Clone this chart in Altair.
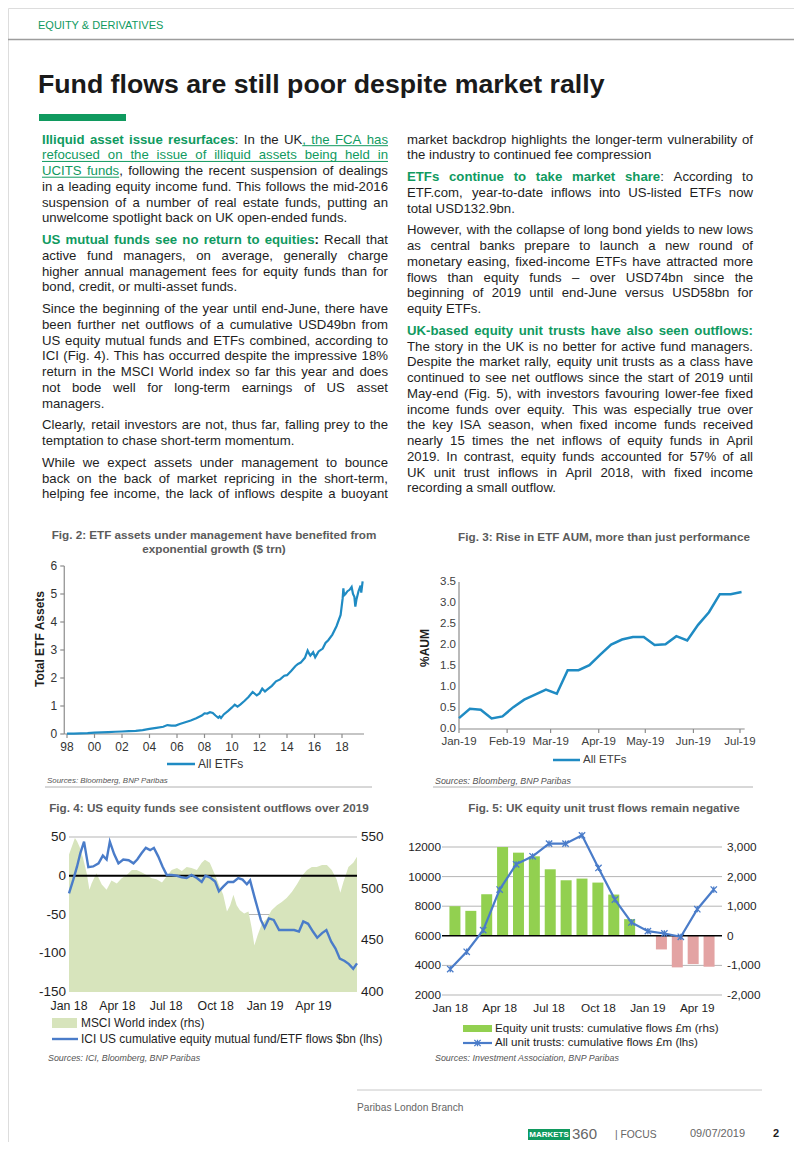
import altair as alt
import pandas as pd

# ----------------------------------------------------------------- page set-up
W, H = 786, 1134            # drawing area inside the 8px body margin
OX = OY = 8                 # reference page pixel -> chart pixel offset

SANS = "Liberation Sans, Arial, sans-serif"
GREEN = "#109a5f"
INK = "#1e1e1e"
CAP = "#5b5b5b"
AXIS_GREY = "#8c8c8c"
ETF_BLUE = "#1f8bc3"
XL_BLUE = "#4a7cc9"
MSCI_FILL = "#d7e4bc"
BAR_GREEN = "#92d050"
BAR_RED = "#e3a3a3"
GRID = "#b5b5b5"

# ----------------------------------------------------------------- page texts
header_text = "EQUITY & DERIVATIVES"
title_text = "Fund flows are still poor despite market rally"

left_paras = [
    [[("b", "Illiquid asset issue resurfaces"), ("n", ": In the UK"), ("u", ", the FCA has")],
     [("u", "refocused on the issue of illiquid assets being held in")],
     [("u", "UCITS funds"), ("n", ", following the recent suspension of dealings")],
     "in a leading equity income fund. This follows the mid-2016",
     "suspension of a number of real estate funds, putting an",
     "unwelcome spotlight back on UK open-ended funds."],
    [[("b", "US mutual funds see no return to equities"), ("k", ":"), ("n", " Recall that")],
     "active fund managers, on average, generally charge",
     "higher annual management fees for equity funds than for",
     "bond, credit, or multi-asset funds."],
    ["Since the beginning of the year until end-June, there have",
     "been further net outflows of a cumulative USD49bn from",
     "US equity mutual funds and ETFs combined, according to",
     "ICI (Fig. 4). This has occurred despite the impressive 18%",
     "return in the MSCI World index so far this year and does",
     "not bode well for long-term earnings of US asset",
     "managers."],
    ["Clearly, retail investors are not, thus far, falling prey to the",
     "temptation to chase short-term momentum."],
    ["While we expect assets under management to bounce",
     "back on the back of market repricing in the short-term,",
     "helping fee income, the lack of inflows despite a buoyant"],
]

right_paras = [
    ["market backdrop highlights the longer-term vulnerability of",
     "the industry to continued fee compression"],
    [[("b", "ETFs continue to take market share"), ("n", ": According to")],
     "ETF.com, year-to-date inflows into US-listed ETFs now",
     "total USD132.9bn."],
    ["However, with the collapse of long bond yields to new lows",
     "as central banks prepare to launch a new round of",
     "monetary easing, fixed-income ETFs have attracted more",
     "flows than equity funds \u2013 over USD74bn since the",
     "beginning of 2019 until end-June versus USD58bn for",
     "equity ETFs."],
    [[("b", "UK-based equity unit trusts have also seen outflows:")],
     "The story in the UK is no better for active fund managers.",
     "Despite the market rally, equity unit trusts as a class have",
     "continued to see net outflows since the start of 2019 until",
     "May-end (Fig. 5), with investors favouring lower-fee fixed",
     "income funds over equity. This was especially true over",
     "the key ISA season, when fixed income funds received",
     "nearly 15 times the net inflows of equity funds in April",
     "2019. In contrast, equity funds accounted for 57% of all",
     "UK unit trust inflows in April 2018, with fixed income",
     "recording a small outflow."],
]

fig2_title = ["Fig. 2: ETF assets under management have benefited from", "exponential growth ($ trn)"]
fig3_title = "Fig. 3: Rise in ETF AUM, more than just performance"
fig4_title = "Fig. 4: US equity funds see consistent outflows over 2019"
fig5_title = "Fig. 5: UK equity unit trust flows remain negative"

# ----------------------------------------------------------------- chart data
# Fig. 2: total ETF assets, $ trn
fig2_year = [1998.0, 1998.5, 1999.0, 1999.5, 2000.0, 2000.5, 2001.0, 2001.5, 2002.0, 2002.5,
             2003.0, 2003.5, 2004.0, 2004.5, 2005.0, 2005.3, 2005.6, 2005.9, 2006.2, 2006.6,
             2007.0, 2007.4, 2007.8, 2008.0, 2008.2, 2008.4, 2008.6, 2008.8, 2009.0, 2009.1,
             2009.2, 2009.4, 2009.7, 2010.0, 2010.2, 2010.4, 2010.6, 2010.9, 2011.2, 2011.5,
             2011.7, 2011.8, 2012.0, 2012.2, 2012.4, 2012.6, 2012.9, 2013.2, 2013.5, 2013.8,
             2014.0, 2014.3, 2014.6, 2014.8, 2015.0, 2015.3, 2015.5, 2015.6, 2015.7, 2015.9,
             2016.05, 2016.1, 2016.3, 2016.6, 2016.8, 2017.0, 2017.3, 2017.6, 2017.9, 2018.05,
             2018.1, 2018.15, 2018.25, 2018.4, 2018.55, 2018.7, 2018.8, 2018.9, 2018.97, 2019.05,
             2019.2, 2019.35, 2019.4, 2019.5]
fig2_aum = [0.01, 0.015, 0.02, 0.03, 0.05, 0.06, 0.07, 0.08, 0.09, 0.10,
            0.11, 0.14, 0.18, 0.22, 0.26, 0.32, 0.30, 0.30, 0.36, 0.42,
            0.48, 0.56, 0.66, 0.74, 0.73, 0.78, 0.75, 0.66, 0.58, 0.63,
            0.57, 0.70, 0.82, 0.95, 1.05, 0.98, 1.05, 1.18, 1.32, 1.50,
            1.42, 1.38, 1.45, 1.62, 1.52, 1.60, 1.72, 1.88, 1.95, 2.08,
            2.10, 2.25, 2.42, 2.50, 2.55, 2.72, 2.98, 2.88, 2.80, 2.92,
            2.74, 2.78, 2.95, 3.05, 3.25, 3.35, 3.55, 3.85, 4.25, 4.85,
            5.20, 4.95, 5.00, 5.10, 5.15, 5.25, 5.00, 4.90, 4.55, 4.80,
            5.10, 5.30, 5.05, 5.45]
fig2_yticks = [0, 1, 2, 3, 4, 5, 6]
fig2_xticks = [1998, 2000, 2002, 2004, 2006, 2008, 2010, 2012, 2014, 2016, 2018]
fig2_xlabels = ["98", "00", "02", "04", "06", "08", "10", "12", "14", "16", "18"]

# Fig. 3: weekly % AUM
fig3_dates = ["2019-01-01", "2019-01-08", "2019-01-15", "2019-01-22", "2019-01-29", "2019-02-05",
              "2019-02-12", "2019-02-19", "2019-02-26", "2019-03-05", "2019-03-12", "2019-03-19",
              "2019-03-26", "2019-04-02", "2019-04-09", "2019-04-16", "2019-04-23", "2019-04-30",
              "2019-05-07", "2019-05-14", "2019-05-21", "2019-05-28", "2019-06-04", "2019-06-11",
              "2019-06-18", "2019-06-25", "2019-07-02"]
fig3_aum = [0.26, 0.48, 0.46, 0.25, 0.30, 0.52, 0.70, 0.82, 0.94, 0.84, 1.40, 1.40, 1.52, 1.77,
            2.01, 2.13, 2.19, 2.19, 2.00, 2.02, 2.21, 2.11, 2.48, 2.78, 3.21, 3.21, 3.26]
fig3_yticks = [0.0, 0.5, 1.0, 1.5, 2.0, 2.5, 3.0, 3.5]
fig3_xtick_dates = ["2019-01-01", "2019-02-01", "2019-03-01", "2019-04-01", "2019-05-01",
                    "2019-06-01", "2019-07-01"]
fig3_xlabels = ["Jan-19", "Feb-19", "Mar-19", "Apr-19", "May-19", "Jun-19", "Jul-19"]

# Fig. 4: ICI cumulative flows ($bn, lhs) and MSCI World (rhs)
fig4_flow_dates = ["2018-01-01", "2018-01-09", "2018-01-16", "2018-01-22", "2018-01-29", "2018-02-06",
                   "2018-02-15", "2018-02-25", "2018-03-05", "2018-03-12", "2018-03-18", "2018-03-26",
                   "2018-04-03", "2018-04-12", "2018-04-22", "2018-05-01", "2018-05-08", "2018-05-16",
                   "2018-05-24", "2018-06-01", "2018-06-08", "2018-06-16", "2018-06-24", "2018-07-02",
                   "2018-07-11", "2018-07-21", "2018-07-30", "2018-08-08", "2018-08-17", "2018-08-27",
                   "2018-09-05", "2018-09-12", "2018-09-20", "2018-09-30", "2018-10-07", "2018-10-15",
                   "2018-10-24", "2018-11-03", "2018-11-12", "2018-11-20", "2018-11-28", "2018-12-04",
                   "2018-12-12", "2018-12-18", "2018-12-24", "2018-12-31", "2019-01-08", "2019-01-17",
                   "2019-01-27", "2019-02-05", "2019-02-14", "2019-02-24", "2019-03-05", "2019-03-13",
                   "2019-03-22", "2019-03-31", "2019-04-08", "2019-04-17", "2019-04-25", "2019-05-04",
                   "2019-05-12", "2019-05-20", "2019-05-29", "2019-06-06", "2019-06-14", "2019-06-21"]
fig4_flow = [-22.6, -5, 12, 29, 44, 11, 12, 16, 26, 21, 44, 28, 16, 21, 20, 16, 21, 29, 36, 33,
             36, 25, 12, 1, 1, 0, -2, -3, 1, -3, -8, 0, -2, -7.5, -20, -14, -8, -8, -3, -5,
             -11, -6, -27, -42, -57, -67, -55, -57, -70, -70, -70, -70, -72, -59, -62, -72, -80,
             -74, -70, -85, -94, -107, -110, -114, -120, -113]
fig4_msci_dates = ["2018-01-01", "2018-01-12", "2018-01-16", "2018-01-21", "2018-01-27", "2018-02-03",
                   "2018-02-08", "2018-02-12", "2018-02-21", "2018-03-03", "2018-03-12", "2018-03-21",
                   "2018-03-31", "2018-04-09", "2018-04-18", "2018-04-28", "2018-05-07", "2018-05-16",
                   "2018-05-26", "2018-06-04", "2018-06-13", "2018-06-23", "2018-07-02", "2018-07-11",
                   "2018-07-21", "2018-07-30", "2018-08-08", "2018-08-17", "2018-08-27", "2018-09-05",
                   "2018-09-11", "2018-09-20", "2018-09-30", "2018-10-07", "2018-10-15", "2018-10-22",
                   "2018-10-28", "2018-11-03", "2018-11-09", "2018-11-15", "2018-11-23", "2018-12-01",
                   "2018-12-07", "2018-12-12", "2018-12-18", "2018-12-26", "2019-01-04", "2019-01-13",
                   "2019-01-23", "2019-02-01", "2019-02-10", "2019-02-20", "2019-03-01", "2019-03-10",
                   "2019-03-20", "2019-03-29", "2019-04-07", "2019-04-17", "2019-04-26", "2019-05-05",
                   "2019-05-14", "2019-05-21", "2019-05-27", "2019-06-05", "2019-06-14", "2019-06-21"]
fig4_msci = [533, 549, 546, 540, 530, 515, 499, 505, 515, 504, 499, 508, 505, 510, 513, 518, 518,
             516, 513, 510, 509, 506, 512, 518, 520, 517, 521, 520, 518, 525, 528, 525, 513, 504,
             494, 478, 484, 494, 484, 479, 476, 478, 462, 445, 455, 466, 471, 479, 484, 487, 491,
             497, 504, 512, 518, 521, 521, 523, 523, 518, 509, 496, 507, 521, 525, 531]
fig4_left_ticks = [50, 0, -50, -100, -150]
fig4_right_ticks = [550, 500, 450, 400]
fig4_xtick_dates = ["2018-01-01", "2018-04-01", "2018-07-01", "2018-10-01", "2019-01-01", "2019-04-01"]
fig4_xlabels = ["Jan 18", "Apr 18", "Jul 18", "Oct 18", "Jan 19", "Apr 19"]

# Fig. 5: UK unit trusts, monthly
fig5_months = ["Jan 18", "Feb 18", "Mar 18", "Apr 18", "May 18", "Jun 18", "Jul 18", "Aug 18",
               "Sep 18", "Oct 18", "Nov 18", "Dec 18", "Jan 19", "Feb 19", "Mar 19", "Apr 19", "May 19"]
fig5_equity = [1000, 843, 1404, 3000, 2809, 2685, 2247, 1876, 1933, 1798, 1393, 562, 0,
               -461, -1067, -955, -1045]
fig5_all = [3753, 4921, 6382, 9124, 10831, 11371, 12225, 12225, 12787, 10584, 8449, 6899,
            6315, 6157, 5933, 7798, 9124]
fig5_left_ticks = [12000, 10000, 8000, 6000, 4000, 2000]
fig5_right_ticks = [3000, 2000, 1000, 0, -1000, -2000]
fig5_right_labels = ["3,000", "2,000", "1,000", "0", "-1,000", "-2,000"]
fig5_xlabel_months = ["Jan 18", "Apr 18", "Jul 18", "Oct 18", "Jan 19", "Apr 19"]

# ----------------------------------------------------------------- font metrics (Arial / Liberation Sans)
AR = dict(zip(" !\"#$%&'()*+,-./", [278, 278, 355, 556, 556, 889, 667, 191, 333, 333, 389, 584, 278, 333, 278, 278]))
AR.update({d: 556 for d in "0123456789"})
AR.update(dict(zip(":;<=>?@", [278, 278, 584, 584, 584, 556, 1015])))
AR.update(dict(zip("ABCDEFGHIJKLMNOPQRSTUVWXYZ",
                   [667, 667, 722, 722, 667, 611, 778, 722, 278, 500, 667, 556, 833, 722, 778, 667, 778, 722, 667, 611, 722, 667, 944, 667, 667, 611])))
AR.update(dict(zip("abcdefghijklmnopqrstuvwxyz",
                   [556, 556, 500, 556, 556, 278, 556, 556, 222, 222, 500, 222, 833, 556, 556, 556, 556, 333, 500, 278, 556, 500, 722, 500, 500, 500])))
AR["\u2013"] = 556
ARB = dict(zip(" !\"#$%&'()*+,-./", [278, 333, 474, 556, 556, 889, 722, 238, 333, 333, 389, 584, 278, 333, 278, 278]))
ARB.update({d: 556 for d in "0123456789"})
ARB.update(dict(zip(":;<=>?@", [333, 333, 584, 584, 584, 611, 975])))
ARB.update(dict(zip("ABCDEFGHIJKLMNOPQRSTUVWXYZ",
                    [722, 722, 722, 722, 667, 611, 778, 722, 278, 556, 722, 611, 833, 722, 778, 667, 778, 722, 667, 611, 722, 667, 944, 667, 667, 611])))
ARB.update(dict(zip("abcdefghijklmnopqrstuvwxyz",
                    [556, 611, 556, 611, 556, 333, 611, 611, 278, 278, 556, 278, 889, 611, 611, 611, 611, 389, 556, 333, 611, 556, 778, 556, 556, 500])))

BODY_FS = 13.2
BODY_Y0 = 143.5 - OY
BODY_LH = 15.75
BODY_PG = 6.0
COL_W = 346.0
STYLE = {"n": (False, INK), "b": (True, GREEN), "k": (True, INK), "u": (False, GREEN)}


def tw(s, bold, fs=BODY_FS):
    t = ARB if bold else AR
    return sum(t.get(c, 556) for c in s) * fs / 1000.0


def layout(paras, x0, continues):
    chunks, unders = [], []
    row = 0
    for pi, para in enumerate(paras):
        for li, line in enumerate(para):
            segs = [("n", line)] if isinstance(line, str) else line
            y = BODY_Y0 + row * BODY_LH + pi * BODY_PG
            words, cur = [], []
            for st, txt in segs:
                for ch in txt:
                    if ch == " ":
                        if cur:
                            words.append(cur)
                            cur = []
                    elif cur and cur[-1][0] == st:
                        cur[-1][1] += ch
                    else:
                        cur.append([st, ch])
            if cur:
                words.append(cur)
            widths = [sum(tw(t, STYLE[s][0]) for s, t in w) for w in words]
            last = li == len(para) - 1 and not (continues and pi == len(paras) - 1)
            gap = tw(" ", False) if (last or len(words) < 2) else (COL_W - sum(widths)) / (len(words) - 1)
            x = x0
            u0 = u1 = None
            for w, ww in zip(words, widths):
                cx = x
                for s, t in w:
                    wd = tw(t, STYLE[s][0])
                    chunks.append({"x": cx, "y": y, "t": t, "s": s})
                    if s == "u":
                        u0 = cx if u0 is None else u0
                        u1 = cx + wd
                    cx += wd
                x += ww + gap
            if u0 is not None:
                unders.append({"x": u0, "x2": u1, "y": y + 2.2, "y2": y + 2.2})
            row += 1
    return chunks, unders


# ----------------------------------------------------------------- helpers
def S(domain, rng):
    return alt.Scale(domain=domain, range=rng, zero=False, nice=False)


def rules(rows, xs, ys, color, width=1.0, **mk):
    df = pd.DataFrame(rows, columns=["x", "x2", "y", "y2"])
    return alt.Chart(df).mark_rule(color=color, strokeWidth=width, **mk).encode(
        x=alt.X("x:Q", scale=xs, axis=None), x2="x2:Q",
        y=alt.Y("y:Q", scale=ys, axis=None), y2="y2:Q")


def texts(rows, xs, ys, **mk):
    df = pd.DataFrame(rows, columns=["x", "y", "t"])
    base = dict(font=SANS, fontSize=12, color=INK, baseline="middle", align="left")
    base.update(mk)
    return alt.Chart(df).mark_text(**base).encode(
        x=alt.X("x:Q", scale=xs, axis=None), y=alt.Y("y:Q", scale=ys, axis=None), text="t:N")


def rect(x1, y1, x2, y2, color):
    df = pd.DataFrame([{"x": x1, "x2": x2, "y": y1, "y2": y2}])
    return alt.Chart(df).mark_rect(color=color).encode(
        x=alt.X("x:Q", scale=None, axis=None), x2="x2:Q",
        y=alt.Y("y:Q", scale=None, axis=None), y2="y2:Q")


def days(dates, start):
    return list((pd.to_datetime(pd.Series(dates)) - pd.Timestamp(start)).dt.days)


L = []

# ----------------------------------------------------------------- page furniture
L.append(texts([(38 - OX, 28.8 - OY, header_text)], None, None, fontSize=11,
               color=GREEN, baseline="alphabetic"))
L.append(rules([(0, W, 39.5 - OY, 39.5 - OY)], None, None, "#9d9d9d", 1.6))
title_fs = 567.0 / tw(title_text, True, 1.0)
L.append(texts([(38 - OX, 93 - OY, title_text)], None, None, fontSize=title_fs,
               fontWeight="bold", color="#1a1a1a", baseline="alphabetic"))
L.append(rect(39 - OX, 114 - OY, 126 - OX, 121 - OY, GREEN))

# ----------------------------------------------------------------- body text
lc, lu = layout(left_paras, 42 - OX, True)
rc, ru = layout(right_paras, 407 - OX, False)
body = pd.DataFrame(lc + rc)
for s, (bold, col) in STYLE.items():
    sub = body[body.s == s]
    if len(sub):
        L.append(alt.Chart(sub).mark_text(font=SANS, fontSize=BODY_FS, fontWeight="bold" if bold else "normal",
                                          color=col, align="left", baseline="alphabetic").encode(
            x=alt.X("x:Q", scale=None, axis=None), y=alt.Y("y:Q", scale=None, axis=None), text="t:N"))
L.append(rules([(u["x"], u["x2"], u["y"], u["y2"]) for u in lu + ru], None, None, GREEN, 1.0))

# ----------------------------------------------------------------- figure captions
cap = dict(font=SANS, fontSize=11.7, fontWeight="bold", color=CAP, align="center", baseline="alphabetic")
L.append(texts([(214 - OX, 539 - OY, fig2_title[0]), (214 - OX, 552.5 - OY, fig2_title[1]),
                (604 - OX, 541 - OY, fig3_title), (209 - OX, 812 - OY, fig4_title),
                (604 - OX, 812 - OY, fig5_title)], None, None, **cap))

# ----------------------------------------------------------------- Fig. 2
xs2 = S([1998, 2018], [67 - OX, 342 - OX])
ys2 = S([0, 6], [734 - OY, 566 - OY])
x0_2, x1_2 = 1997.8, 2019.6
L.append(rules([(x0_2, x1_2, 0, 0), (x0_2, x0_2, 0, 6)], xs2, ys2, AXIS_GREY, 1.2))
L.append(rules([(x0_2, x0_2, v, v) for v in fig2_yticks], xs2, ys2, AXIS_GREY, 1.2, x2Offset=-4))
L.append(rules([(v, v, 0, 0) for v in fig2_xticks], xs2, ys2, AXIS_GREY, 1.2, y2Offset=4))
L.append(alt.Chart(pd.DataFrame({"yr": fig2_year, "v": fig2_aum})).mark_line(
    color=ETF_BLUE, strokeWidth=2.2).encode(
    x=alt.X("yr:Q", scale=xs2, axis=None), y=alt.Y("v:Q", scale=ys2, axis=None)))
L.append(texts([(x0_2, v, str(v)) for v in fig2_yticks], xs2, ys2, align="right", dx=-7,
               fontSize=12, color="#333333"))
L.append(texts(list(zip(fig2_xticks, [0] * len(fig2_xticks), fig2_xlabels)), xs2, ys2,
               align="center", dy=13, fontSize=12, color="#333333"))
L.append(texts([(40 - OX, 639 - OY, "Total ETF Assets")], None, None, angle=270, align="center",
               fontWeight="bold", fontSize=12))
L.append(rules([(167 - OX, 195 - OX, 764 - OY, 764 - OY)], None, None, ETF_BLUE, 2.5))
L.append(texts([(198 - OX, 764 - OY, "All ETFs")], None, None, fontSize=12, color="#333333"))
L.append(texts([(47 - OX, 781 - OY, "Sources: Bloomberg, BNP Paribas")], None, None,
               fontSize=7.9, fontStyle="italic", color="#555555"))
L.append(rules([(45 - OX, 372 - OX, 787 - OY, 787 - OY)], None, None, "#b0b0b0", 1))

# ----------------------------------------------------------------- Fig. 3
xs3 = S([0, 181], [459 - OX, 740 - OX])
ys3 = S([0, 3.5], [729 - OY, 582 - OY])
fig3_day = days(fig3_dates, "2019-01-01")
fig3_tick_day = days(fig3_xtick_dates, "2019-01-01")
L.append(rules([(0, 184, 0, 0), (0, 0, 0, 3.5)], xs3, ys3, AXIS_GREY, 1.2))
L.append(rules([(d, d, 0, 0) for d in fig3_tick_day], xs3, ys3, AXIS_GREY, 1.2, y2Offset=4))
L.append(alt.Chart(pd.DataFrame({"d": fig3_day, "v": fig3_aum})).mark_line(
    color=ETF_BLUE, strokeWidth=2.5).encode(
    x=alt.X("d:Q", scale=xs3, axis=None), y=alt.Y("v:Q", scale=ys3, axis=None)))
L.append(texts([(0, v, f"{v:.1f}") for v in fig3_yticks], xs3, ys3, align="right", dx=-3,
               fontSize=11.5, color="#404040"))
L.append(texts(list(zip(fig3_tick_day, [0] * 7, fig3_xlabels)), xs3, ys3, align="center", dy=13,
               fontSize=11.5, color="#404040"))
L.append(texts([(425 - OX, 648 - OY, "%AUM")], None, None, angle=270, align="center",
               fontWeight="bold", fontSize=12))
L.append(rules([(553 - OX, 580 - OX, 760 - OY, 760 - OY)], None, None, ETF_BLUE, 2.5))
L.append(texts([(583 - OX, 760 - OY, "All ETFs")], None, None, fontSize=11.5, color="#404040"))
L.append(texts([(435 - OX, 781 - OY, "Sources: Bloomberg, BNP Paribas")], None, None,
               fontSize=8.9, fontStyle="italic", color="#555555"))
L.append(rules([(433 - OX, 753 - OX, 787 - OY, 787 - OY)], None, None, "#b0b0b0", 1))

# ----------------------------------------------------------------- Fig. 4
xs4 = S([0, 536], [69 - OX, 357 - OX])
yl4 = S([-150, 50], [992 - OY, 837 - OY])
yr4 = S([400, 550], [992 - OY, 837 - OY])
fig4_flow_day = days(fig4_flow_dates, "2018-01-01")
fig4_msci_day = days(fig4_msci_dates, "2018-01-01")
fig4_tick_day = days(fig4_xtick_dates, "2018-01-01")
L.append(rules([(0, 536, v, v) for v in [50, -50, -100]], xs4, yl4, GRID, 1))
L.append(alt.Chart(pd.DataFrame({"d": fig4_msci_day, "v": fig4_msci})).mark_area(
    color=MSCI_FILL, opacity=1).encode(
    x=alt.X("d:Q", scale=xs4, axis=None), y=alt.Y("v:Q", scale=yr4, axis=None), y2=alt.Y2Datum(400)))
L.append(rules([(0, 536, 0, 0)], xs4, yl4, "#000000", 2))
L.append(alt.Chart(pd.DataFrame({"d": fig4_flow_day, "v": fig4_flow})).mark_line(
    color=XL_BLUE, strokeWidth=2.4).encode(
    x=alt.X("d:Q", scale=xs4, axis=None), y=alt.Y("v:Q", scale=yl4, axis=None)))
L.append(texts([(0, v, str(v)) for v in fig4_left_ticks], xs4, yl4, align="right", dx=-3, fontSize=13.5))
L.append(texts([(536, v, str(v)) for v in fig4_right_ticks], xs4, yr4, align="left", dx=4, fontSize=13.5))
L.append(texts(list(zip(fig4_tick_day, [-150] * 6, fig4_xlabels)), xs4, yl4, align="center", dy=14,
               fontSize=12.3))
L.append(rect(52 - OX, 1018 - OY, 77 - OX, 1028 - OY, MSCI_FILL))
L.append(texts([(81 - OX, 1023 - OY, "MSCI World index (rhs)")], None, None, fontSize=11.9))
L.append(rules([(52 - OX, 78 - OX, 1039 - OY, 1039 - OY)], None, None, XL_BLUE, 2.4))
L.append(texts([(81 - OX, 1039 - OY, "ICI US cumulative equity mutual fund/ETF flows $bn (lhs)")], None, None,
               fontSize=11.9))
L.append(texts([(48 - OX, 1058 - OY, "Sources: ICI, Bloomberg, BNP Paribas")], None, None,
               fontSize=8.9, fontStyle="italic", color="#555555"))

# ----------------------------------------------------------------- Fig. 5
xs5 = S([-0.5, 16.5], [442 - OX, 722 - OX])
yl5 = S([2000, 12000], [995 - OY, 847 - OY])
yr5 = S([-2000, 3000], [995 - OY, 847 - OY])
fig5_df = pd.DataFrame({"m": list(range(len(fig5_months))), "eq": fig5_equity, "all": fig5_all})
fig5_xl_idx = [fig5_months.index(m) for m in fig5_xlabel_months]
L.append(rules([(-0.5, 16.5, v, v) for v in fig5_left_ticks if v != 6000], xs5, yl5, GRID, 1))
L.append(alt.Chart(fig5_df).mark_bar(size=11).encode(
    x=alt.X("m:Q", scale=xs5, axis=None), y=alt.Y("eq:Q", scale=yr5, axis=None), y2=alt.Y2Datum(0),
    color=alt.condition("datum.eq < 0", alt.value(BAR_RED), alt.value(BAR_GREEN))))
L.append(rules([(-0.5, 16.5, 6000, 6000)], xs5, yl5, "#000000", 1.6))
STAR = "M-1,-1L1,1M-1,1L1,-1M0,-1L0,1"
L.append(alt.Chart(fig5_df).mark_line(color=XL_BLUE, strokeWidth=2.2).encode(
    x=alt.X("m:Q", scale=xs5, axis=None), y=alt.Y("all:Q", scale=yl5, axis=None)))
L.append(alt.Chart(fig5_df).mark_point(shape=STAR, size=40, filled=False, strokeWidth=1.3,
                                       color=XL_BLUE, opacity=1).encode(
    x=alt.X("m:Q", scale=xs5, axis=None), y=alt.Y("all:Q", scale=yl5, axis=None)))
L.append(texts([(-0.5, v, str(v)) for v in fig5_left_ticks], xs5, yl5, align="right", dx=-1, fontSize=11.8))
L.append(texts([(16.5, v, lab) for v, lab in zip(fig5_right_ticks, fig5_right_labels)], xs5, yr5,
               align="left", dx=5, fontSize=11.8))
L.append(texts([(i, 2000, m) for i, m in zip(fig5_xl_idx, fig5_xlabel_months)], xs5, yl5,
               align="center", dy=13, fontSize=11.8))
L.append(rect(463 - OX, 1025 - OY, 492 - OX, 1032 - OY, BAR_GREEN))
L.append(texts([(495 - OX, 1029 - OY, "Equity unit trusts: cumulative flows \u00a3m (rhs)")], None, None,
               fontSize=11.6))
L.append(rules([(463 - OX, 492 - OX, 1043 - OY, 1043 - OY)], None, None, XL_BLUE, 2.2))
L.append(alt.Chart(pd.DataFrame({"x": [477.5 - OX], "y": [1043 - OY]})).mark_point(
    shape=STAR, size=40, filled=False, strokeWidth=1.3, color=XL_BLUE, opacity=1).encode(
    x=alt.X("x:Q", scale=None, axis=None), y=alt.Y("y:Q", scale=None, axis=None)))
L.append(texts([(495 - OX, 1043 - OY, "All unit trusts: cumulative flows \u00a3m (lhs)")], None, None,
               fontSize=11.6))
L.append(texts([(435 - OX, 1058 - OY, "Sources: Investment Association, BNP Paribas")], None, None,
               fontSize=8.9, fontStyle="italic", color="#555555"))

# ----------------------------------------------------------------- footer
L.append(rules([(357 - OX, 762 - OX, 1090 - OY, 1090 - OY)], None, None, "#c8c8c8", 1))
L.append(texts([(357 - OX, 1108 - OY, "Paribas London Branch")], None, None, fontSize=10.2, color="#666666"))
L.append(rect(528 - OX, 1129 - OY, 570 - OX, 1140 - OY, GREEN))
L.append(texts([(549 - OX, 1134.7 - OY, "MARKETS")], None, None, fontWeight="bold",
               fontSize=8.0, color="white", align="center"))
L.append(texts([(572 - OX, 1134 - OY, "360")], None, None, fontSize=15, color="#666666"))
L.append(texts([(615 - OX, 1135 - OY, "| FOCUS")], None, None, fontSize=10.3, color="#666666"))
L.append(texts([(690 - OX, 1134 - OY, "09/07/2019")], None, None, fontSize=11, color="#666666"))
L.append(texts([(773 - OX, 1134 - OY, "2")], None, None, fontSize=11, fontWeight="bold"))

chart = alt.layer(*L).resolve_scale(x="independent", y="independent").properties(
    width=W, height=H, padding=0, autosize=alt.AutoSizeParams(type="none")
).configure_view(stroke=None).configure(background="white")

chart.save("out.html", embed_options={"renderer": "svg", "actions": False})
